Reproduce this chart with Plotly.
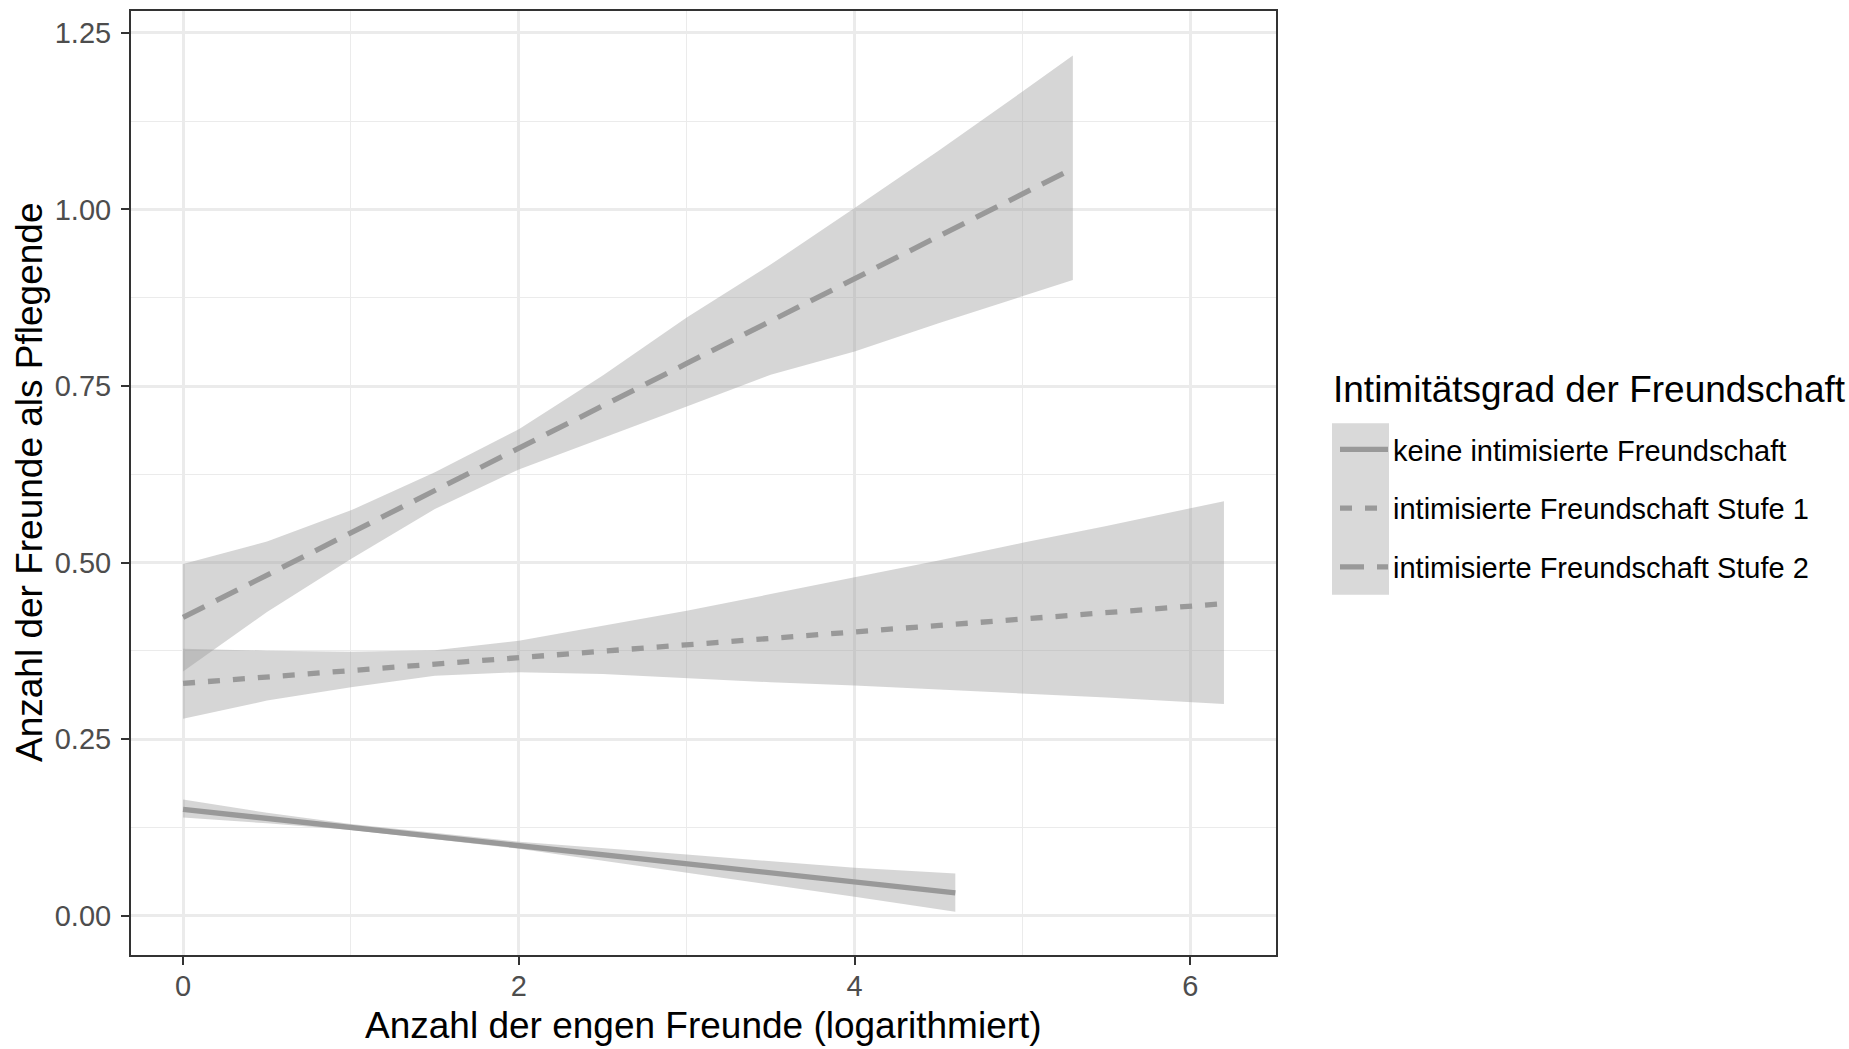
import plotly.graph_objects as go

# ---- data ----
series_names = [
    "keine intimisierte Freundschaft",
    "intimisierte Freundschaft Stufe 1",
    "intimisierte Freundschaft Stufe 2",
]

x1 = [0, 0.5, 1, 1.5, 2, 3, 4, 4.6]
fit1 = [0.1507, 0.1380, 0.1255, 0.1128, 0.1000, 0.0745, 0.0490, 0.0325]
upper1 = [0.1645, 0.1460, 0.1300, 0.1175, 0.1050, 0.0867, 0.0680, 0.0600]
lower1 = [0.1390, 0.1310, 0.1215, 0.1085, 0.0950, 0.0608, 0.0270, 0.0057]

x2 = [0, 0.5, 1, 1.5, 2, 2.5, 3, 3.5, 4, 4.5, 5, 5.5, 6.2]
fit2 = [0.329, 0.338, 0.347, 0.356, 0.365, 0.374, 0.384, 0.393, 0.402, 0.411, 0.420, 0.429, 0.442]
upper2 = [0.378, 0.3754, 0.374, 0.376, 0.3895, 0.4107, 0.432, 0.4555, 0.479, 0.503, 0.528, 0.552, 0.587]
lower2 = [0.279, 0.3047, 0.3235, 0.340, 0.3448, 0.3425, 0.3368, 0.3306, 0.326, 0.321, 0.315, 0.309, 0.300]

x3 = [0, 0.5, 1, 1.5, 2, 2.5, 3, 3.5, 4, 4.5, 5, 5.3]
fit3 = [0.4225, 0.482, 0.542, 0.602, 0.662, 0.722, 0.782, 0.842, 0.902, 0.962, 1.021, 1.058]
upper3 = [0.498, 0.530, 0.574, 0.628, 0.689, 0.765, 0.847, 0.922, 1.002, 1.083, 1.167, 1.218]
lower3 = [0.346, 0.430, 0.505, 0.576, 0.632, 0.676, 0.721, 0.766, 0.799, 0.839, 0.877, 0.900]

x_ticks = [0, 2, 4, 6]
y_ticks = [0.00, 0.25, 0.50, 0.75, 1.00, 1.25]
y_tick_labels = ["0.00", "0.25", "0.50", "0.75", "1.00", "1.25"]

x_title = "Anzahl der engen Freunde (logarithmiert)"
y_title = "Anzahl der Freunde als Pflegende"
legend_title = "Intimitätsgrad der Freundschaft"

# ---- styling ----
FONT = "Liberation Sans, Arial, sans-serif"
LINE_COL = "#999999"
FILL_COL = "rgba(153,153,153,0.4)"
dashes = ["solid", "12px,13px", "24px,13px"]

W, H = 1849, 1049
L, R, T, B = 131, 1276, 9, 955  # panel pixel edges
pw, ph = R - L, B - T

fig = go.Figure()

all_series = [
    (x1, fit1, upper1, lower1),
    (x2, fit2, upper2, lower2),
    (x3, fit3, upper3, lower3),
]

for i, (xs, fit, up, lo) in enumerate(all_series):
    fig.add_trace(go.Scatter(
        x=list(xs) + list(xs)[::-1],
        y=list(up) + list(lo)[::-1],
        fill="toself", fillcolor=FILL_COL,
        line=dict(width=0), mode="lines",
        hoverinfo="skip", showlegend=False,
    ))

for i, (xs, fit, up, lo) in enumerate(all_series):
    fig.add_trace(go.Scatter(
        x=xs, y=fit, mode="lines", name=series_names[i],
        line=dict(color=LINE_COL, width=5.3, dash=dashes[i]),
        legendgroup=f"g{i}",
    ))

def px_x(p):
    return (p - L) / pw

def px_y(p):
    return (B - p) / ph

# legend key background
fig.add_shape(type="rect", xref="paper", yref="paper",
              x0=px_x(1332), x1=px_x(1389), y0=px_y(594), y1=px_y(422),
              fillcolor="#d9d9d9", line=dict(width=0), layer="below")

# legend title
fig.add_annotation(text=legend_title, xref="paper", yref="paper",
                   x=px_x(1331), y=px_y(388), xanchor="left", yanchor="middle",
                   showarrow=False, font=dict(family=FONT, size=37, color="#000000"))

fig.add_annotation(text=x_title, xref="paper", yref="paper",
                   x=px_x((L + R) / 2), y=px_y(1026), xanchor="center", yanchor="middle",
                   showarrow=False, font=dict(family=FONT, size=37, color="#000000"))
fig.add_annotation(text=y_title, xref="paper", yref="paper", textangle=-90,
                   x=px_x(29), y=px_y((T + B) / 2), xanchor="center", yanchor="middle",
                   showarrow=False, font=dict(family=FONT, size=37, color="#000000"))

axis_common = dict(
    showline=True, mirror=True, linecolor="#333333", linewidth=2,
    ticks="outside", ticklen=8, tickwidth=2, tickcolor="#333333",
    tickfont=dict(family=FONT, size=29, color="#4D4D4D"),
    showgrid=True, gridcolor="#EBEBEB", gridwidth=2.5,
    zeroline=False,
)

fig.update_xaxes(range=[-0.31, 6.51], tickvals=x_ticks,
                 minor=dict(dtick=1, tick0=0, showgrid=True, gridcolor="#EBEBEB", gridwidth=1.3, ticks=""),
                 ticklabelstandoff=-4, **axis_common)
fig.update_yaxes(range=[-0.0555, 1.281], tickvals=y_ticks, ticktext=y_tick_labels,
                 minor=dict(dtick=0.125, tick0=0, showgrid=True, gridcolor="#EBEBEB", gridwidth=1.3, ticks=""),
                 ticklabelstandoff=4, **axis_common)

fig.update_layout(
    width=W, height=H, autosize=False,
    margin=dict(l=L, r=W - R, t=T, b=H - B, pad=0),
    paper_bgcolor="white", plot_bgcolor="white",
    font=dict(family=FONT, color="#000000"),
    legend=dict(
        font=dict(family=FONT, size=29, color="#000000"),
        x=px_x(1335), xanchor="left", y=px_y(423), yanchor="top",
        bgcolor="rgba(0,0,0,0)", borderwidth=0,
        tracegroupgap=18, itemwidth=48,
    ),
    showlegend=True,
)

fig.write_html(
    "out.html",
    config={"displayModeBar": False},
    post_script="document.body.style.margin='0px';document.body.style.overflow='hidden';",
)
